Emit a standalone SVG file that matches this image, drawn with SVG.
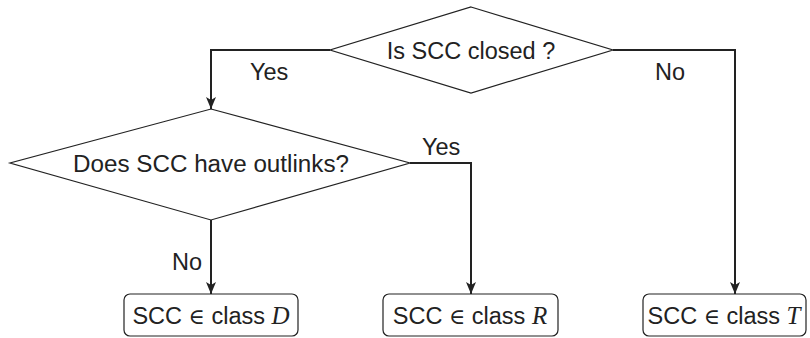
<svg xmlns="http://www.w3.org/2000/svg" width="810" height="338" viewBox="0 0 810 338">
<defs>
<style>
.shape{fill:#fff;stroke:#222;stroke-width:1.2}
.conn{fill:none;stroke:#222;stroke-width:2}
text{font-family:"Liberation Sans",Arial,sans-serif;font-size:23.5px;fill:#222}
.c{text-anchor:middle}
.m{font-family:"Liberation Serif","Times New Roman",serif;font-style:italic;font-size:25px}
.e{font-family:"DejaVu Serif","Liberation Serif",serif;font-size:22px}
</style>
<marker id="ah" viewBox="0 0 10 10" refX="10" refY="5" markerWidth="12" markerHeight="10" markerUnits="userSpaceOnUse" orient="auto" preserveAspectRatio="none">
<path d="M0,0 L10,5 L0,10 L2.5,5 Z" fill="#222"/>
</marker>
</defs>
<g id="connectors">
<path class="conn" d="M330,50 H211 V109" marker-end="url(#ah)"/>
<path class="conn" d="M613,50 H735 V294" marker-end="url(#ah)"/>
<path class="conn" d="M410,163 H471 V294" marker-end="url(#ah)"/>
<path class="conn" d="M211,220 V294" marker-end="url(#ah)"/>
<text x="250" y="80">Yes</text>
<text x="655" y="80">No</text>
<text x="422" y="155">Yes</text>
<text x="172" y="270">No</text>
</g>
<g id="closed">
<polygon class="shape" points="471,7 613,50 471,93 330,50"/>
<text class="c" x="471" y="59">Is SCC closed ?</text>
</g>
<g id="outlinks">
<polygon class="shape" points="211,109 410,163 211,220 10,163"/>
<text class="c" x="211" y="172" textLength="276" lengthAdjust="spacingAndGlyphs">Does SCC have outlinks?</text>
</g>
<g id="classD">
<rect class="shape" x="124" y="294" width="174" height="42" rx="6"/>
<text class="c" x="211" y="324">SCC <tspan class="e">∈</tspan> class <tspan class="m">D</tspan></text>
</g>
<g id="classR">
<rect class="shape" x="383" y="294" width="175" height="42" rx="6"/>
<text class="c" x="470" y="324">SCC <tspan class="e">∈</tspan> class <tspan class="m">R</tspan></text>
</g>
<g id="classT">
<rect class="shape" x="643" y="294" width="163" height="42" rx="6"/>
<text class="c" x="724" y="324">SCC <tspan class="e">∈</tspan> class <tspan class="m">T</tspan></text>
</g>
</svg>
